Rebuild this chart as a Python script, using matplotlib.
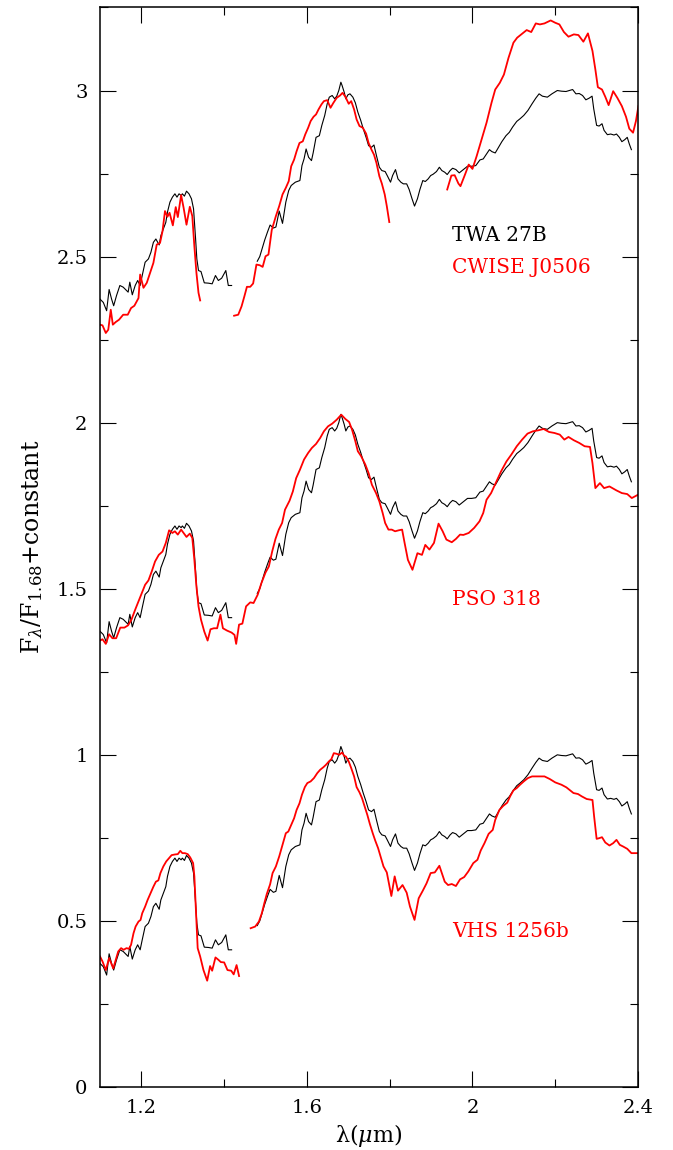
import numpy as np
import matplotlib
matplotlib.use('Agg')
import matplotlib.pyplot as plt
from matplotlib.ticker import MultipleLocator, FormatStrFormatter

plt.rcParams['font.family'] = 'DejaVu Serif'
plt.rcParams['mathtext.fontset'] = 'dejavuserif'

nan = np.nan

# TWA 27B, normalised at 1.68 um (plotted three times with offsets 2, 1, 0)
twa_wave = [1.100, 1.108, 1.116, 1.122, 1.128, 1.133, 1.140, 1.148, 1.156, 1.164,
            1.168, 1.172, 1.178, 1.185, 1.191, 1.197, 1.202, 1.209, 1.217, 1.223,
            1.229, 1.235, 1.243, 1.247, 1.253, 1.259, 1.263, 1.269, 1.275, 1.281,
            1.286, 1.291, 1.296, 1.299, 1.304, 1.309, 1.315, 1.321, 1.326, 1.331,
            1.334, 1.338, 1.344, 1.352, 1.362, 1.371, 1.379, 1.386, 1.394, 1.404,
            1.410, 1.418, nan,
            1.480, 1.486, 1.492, 1.498, 1.505, 1.511, 1.519, 1.525, 1.533, 1.541,
            1.549, 1.556, 1.562, 1.572, 1.583, 1.588, 1.593, 1.598, 1.604, 1.611,
            1.615, 1.622, 1.630, 1.636, 1.643, 1.649, 1.654, 1.661, 1.667, 1.672,
            1.677, 1.682, 1.685, 1.690, 1.694, 1.699, 1.704, 1.711, 1.717, 1.723,
            1.730, 1.736, 1.743, 1.749, 1.756, 1.762, 1.768, 1.775, 1.781, 1.789,
            1.794, 1.802, 1.807, 1.814, 1.820, 1.827, 1.833, 1.841, 1.847, 1.854,
            1.860, 1.867, 1.873, 1.880, 1.886, 1.893, 1.899, 1.905, 1.913, 1.920,
            1.926, 1.933, 1.939, 1.946, 1.952, 1.960, 1.968, 1.978, 1.988, 1.998,
            2.008, 2.018, 2.026, 2.034, 2.041, 2.047, 2.055, 2.063, 2.071, 2.081,
            2.089, 2.097, 2.107, 2.115, 2.124, 2.134, 2.144, 2.153, 2.161, 2.169,
            2.181, 2.192, 2.205, 2.215, 2.226, 2.234, 2.242, 2.250, 2.258, 2.266,
            2.274, 2.282, 2.289, 2.293, 2.300, 2.306, 2.313, 2.318, 2.326, 2.334,
            2.342, 2.348, 2.355, 2.361, 2.368, 2.374, 2.379, 2.384]
twa_flux = [0.372, 0.362, 0.337, 0.401, 0.372, 0.352, 0.383, 0.413, 0.408, 0.398,
            0.393, 0.423, 0.385, 0.413, 0.428, 0.413, 0.443, 0.483, 0.493, 0.513,
            0.543, 0.553, 0.535, 0.563, 0.583, 0.603, 0.634, 0.664, 0.679, 0.689,
            0.679, 0.689, 0.684, 0.689, 0.682, 0.697, 0.689, 0.674, 0.644, 0.553,
            0.493, 0.458, 0.455, 0.421, 0.420, 0.418, 0.443, 0.428, 0.435, 0.458,
            0.413, 0.413, nan,
            0.486, 0.500, 0.525, 0.550, 0.575, 0.595, 0.586, 0.589, 0.637, 0.600,
            0.664, 0.699, 0.714, 0.724, 0.729, 0.774, 0.794, 0.824, 0.799, 0.789,
            0.812, 0.859, 0.864, 0.895, 0.925, 0.960, 0.980, 0.985, 0.975, 0.983,
            1.000, 1.025, 1.015, 0.995, 0.975, 0.987, 0.990, 0.980, 0.963, 0.935,
            0.910, 0.885, 0.859, 0.834, 0.829, 0.836, 0.804, 0.769, 0.759, 0.756,
            0.744, 0.724, 0.744, 0.762, 0.734, 0.724, 0.719, 0.719, 0.702, 0.674,
            0.652, 0.674, 0.702, 0.729, 0.726, 0.734, 0.744, 0.748, 0.756, 0.769,
            0.759, 0.754, 0.747, 0.759, 0.766, 0.762, 0.752, 0.762, 0.772, 0.772,
            0.774, 0.791, 0.794, 0.809, 0.822, 0.816, 0.812, 0.829, 0.846, 0.864,
            0.874, 0.890, 0.907, 0.915, 0.925, 0.940, 0.960, 0.977, 0.990, 0.983,
            0.980, 0.990, 1.000, 0.998, 0.997, 1.000, 1.003, 0.990, 0.991, 0.985,
            0.972, 0.977, 0.983, 0.945, 0.895, 0.893, 0.900, 0.880, 0.867, 0.869,
            0.866, 0.869, 0.859, 0.846, 0.852, 0.859, 0.839, 0.822]

# CWISE J0506 (top)
cwise_wave = [1.100, 1.106, 1.114, 1.120, 1.126, 1.131, 1.138, 1.146, 1.156, 1.167,
              1.175, 1.183, 1.193, 1.197, 1.205, 1.213, 1.221, 1.229, 1.237, 1.245,
              1.251, 1.257, 1.263, 1.268, 1.276, 1.283, 1.288, 1.296, 1.302, 1.309,
              1.317, 1.323, 1.328, 1.333, 1.338, 1.342, nan,
              1.424, 1.434, 1.442, 1.449, 1.455, 1.463, 1.470, 1.478, 1.486, 1.493,
              1.500, 1.507, 1.515, 1.525, 1.533, 1.541, 1.549, 1.556, 1.562, 1.569,
              1.575, 1.582, 1.590, 1.596, 1.603, 1.609, 1.616, 1.622, 1.628, 1.635,
              1.641, 1.649, 1.657, 1.664, 1.672, 1.680, 1.686, 1.693, 1.701, 1.707,
              1.714, 1.720, 1.727, 1.735, 1.743, 1.749, 1.756, 1.762, 1.768, 1.775,
              1.781, 1.788, 1.793, 1.799, nan,
              1.939, 1.949, 1.957, 1.966, 1.971, 1.982, 1.991, 2.000, 2.010, 2.022,
              2.034, 2.046, 2.055, 2.066, 2.076, 2.087, 2.099, 2.108, 2.118, 2.131,
              2.142, 2.153, 2.163, 2.174, 2.189, 2.200, 2.210, 2.221, 2.232, 2.245,
              2.256, 2.268, 2.279, 2.290, 2.297, 2.303, 2.313, 2.321, 2.329, 2.340,
              2.350, 2.361, 2.371, 2.379, 2.388, 2.395, 2.401]
cwise_flux = [0.295, 0.293, 0.270, 0.280, 0.340, 0.295, 0.303, 0.310, 0.325, 0.325,
              0.345, 0.352, 0.375, 0.446, 0.406, 0.421, 0.451, 0.481, 0.536, 0.541,
              0.576, 0.637, 0.620, 0.632, 0.594, 0.649, 0.619, 0.685, 0.647, 0.596,
              0.650, 0.622, 0.531, 0.451, 0.391, 0.368, nan,
              0.322, 0.325, 0.350, 0.381, 0.409, 0.409, 0.419, 0.476, 0.474, 0.469,
              0.501, 0.506, 0.580, 0.622, 0.652, 0.687, 0.707, 0.727, 0.772, 0.792,
              0.817, 0.842, 0.847, 0.868, 0.888, 0.908, 0.921, 0.928, 0.943, 0.958,
              0.968, 0.971, 0.948, 0.963, 0.978, 0.985, 0.993, 0.981, 0.960, 0.968,
              0.943, 0.913, 0.893, 0.888, 0.870, 0.842, 0.822, 0.807, 0.782, 0.742,
              0.720, 0.687, 0.652, 0.604, nan,
              0.702, 0.744, 0.745, 0.720, 0.712, 0.747, 0.777, 0.764, 0.802, 0.852,
              0.903, 0.963, 1.003, 1.023, 1.048, 1.098, 1.144, 1.159, 1.169, 1.182,
              1.176, 1.202, 1.199, 1.202, 1.211, 1.204, 1.199, 1.176, 1.162, 1.169,
              1.167, 1.147, 1.172, 1.119, 1.063, 1.010, 1.003, 0.981, 0.956, 0.998,
              0.978, 0.953, 0.921, 0.885, 0.873, 0.908, 0.953]

# PSO 318 (middle)
pso_wave = [1.100, 1.106, 1.114, 1.122, 1.130, 1.139, 1.149, 1.159, 1.168, 1.176,
            1.185, 1.193, 1.201, 1.209, 1.217, 1.225, 1.233, 1.242, 1.251, 1.259,
            1.267, 1.275, 1.281, 1.288, 1.296, 1.302, 1.309, 1.317, 1.323, 1.328,
            1.333, 1.338, 1.344, 1.352, 1.360, 1.367, 1.375, 1.383, 1.391, 1.397,
            1.407, 1.418, 1.425, 1.429, 1.436, 1.444, 1.453, 1.463, 1.471, 1.481,
            1.490, 1.500, 1.508, 1.516, 1.524, 1.532, 1.540, 1.547, 1.558, 1.566,
            1.574, 1.583, 1.593, 1.603, 1.612, 1.622, 1.632, 1.641, 1.651, 1.661,
            1.672, 1.683, 1.693, 1.702, 1.709, 1.717, 1.723, 1.731, 1.741, 1.749,
            1.757, 1.767, 1.775, 1.783, 1.789, 1.797, 1.805, 1.813, 1.822, 1.830,
            1.836, 1.844, 1.855, 1.867, 1.878, 1.886, 1.896, 1.907, 1.918, 1.928,
            1.937, 1.950, 1.960, 1.970, 1.978, 1.991, 2.004, 2.017, 2.026, 2.034,
            2.045, 2.056, 2.069, 2.082, 2.094, 2.107, 2.120, 2.133, 2.146, 2.159,
            2.172, 2.185, 2.198, 2.211, 2.222, 2.232, 2.245, 2.258, 2.271, 2.284,
            2.290, 2.297, 2.308, 2.318, 2.331, 2.348, 2.361, 2.374, 2.385, 2.400]
pso_flux = [0.344, 0.348, 0.334, 0.363, 0.351, 0.351, 0.383, 0.383, 0.390, 0.407,
            0.437, 0.462, 0.487, 0.512, 0.525, 0.552, 0.582, 0.602, 0.612, 0.638,
            0.676, 0.668, 0.673, 0.663, 0.678, 0.668, 0.656, 0.666, 0.653, 0.587,
            0.507, 0.447, 0.407, 0.371, 0.344, 0.378, 0.381, 0.381, 0.422, 0.381,
            0.374, 0.368, 0.361, 0.334, 0.392, 0.395, 0.447, 0.459, 0.457, 0.482,
            0.517, 0.549, 0.567, 0.612, 0.650, 0.678, 0.698, 0.738, 0.765, 0.793,
            0.833, 0.858, 0.889, 0.909, 0.924, 0.936, 0.954, 0.974, 0.989, 0.997,
            1.009, 1.024, 1.011, 1.002, 0.979, 0.944, 0.914, 0.899, 0.874, 0.848,
            0.813, 0.788, 0.763, 0.728, 0.698, 0.678, 0.678, 0.673, 0.676, 0.678,
            0.638, 0.587, 0.557, 0.607, 0.602, 0.632, 0.618, 0.638, 0.696, 0.673,
            0.648, 0.640, 0.650, 0.663, 0.662, 0.668, 0.683, 0.703, 0.728, 0.768,
            0.788, 0.818, 0.853, 0.883, 0.904, 0.929, 0.949, 0.967, 0.974, 0.977,
            0.981, 0.972, 0.969, 0.964, 0.949, 0.957, 0.947, 0.939, 0.929, 0.927,
            0.878, 0.803, 0.818, 0.803, 0.808, 0.796, 0.788, 0.785, 0.773, 0.783]

# VHS 1256b (bottom)
vhs_wave = [1.100, 1.106, 1.114, 1.122, 1.132, 1.138, 1.144, 1.151, 1.157, 1.164,
            1.170, 1.175, 1.181, 1.186, 1.193, 1.198, 1.202, 1.209, 1.215, 1.222,
            1.229, 1.235, 1.241, 1.246, 1.253, 1.260, 1.267, 1.273, 1.281, 1.288,
            1.294, 1.299, 1.305, 1.312, 1.318, 1.325, 1.328, 1.331, 1.334, 1.336,
            1.342, 1.350, 1.359, 1.366, 1.371, 1.379, 1.386, 1.392, 1.400, 1.408,
            1.417, 1.423, 1.430, 1.436, nan,
            1.464, 1.475, 1.484, 1.491, 1.497, 1.503, 1.511, 1.517, 1.525, 1.533,
            1.541, 1.549, 1.555, 1.562, 1.569, 1.575, 1.582, 1.588, 1.595, 1.601,
            1.609, 1.617, 1.625, 1.632, 1.640, 1.646, 1.653, 1.659, 1.665, 1.672,
            1.678, 1.685, 1.690, 1.694, 1.701, 1.707, 1.714, 1.720, 1.727, 1.733,
            1.739, 1.746, 1.752, 1.759, 1.765, 1.772, 1.778, 1.785, 1.793, 1.798,
            1.804, 1.812, 1.820, 1.831, 1.841, 1.849, 1.860, 1.870, 1.880, 1.889,
            1.899, 1.909, 1.920, 1.926, 1.933, 1.941, 1.950, 1.960, 1.970, 1.980,
            1.990, 2.002, 2.012, 2.020, 2.029, 2.039, 2.049, 2.055, 2.065, 2.074,
            2.084, 2.091, 2.099, 2.107, 2.115, 2.124, 2.134, 2.144, 2.157, 2.174,
            2.187, 2.200, 2.215, 2.227, 2.236, 2.244, 2.255, 2.264, 2.276, 2.290,
            2.294, 2.300, 2.306, 2.313, 2.321, 2.331, 2.340, 2.348, 2.356, 2.364,
            2.374, 2.384, 2.393, 2.403]
vhs_flux = [0.393, 0.378, 0.352, 0.388, 0.357, 0.383, 0.408, 0.418, 0.413, 0.418,
            0.416, 0.428, 0.463, 0.483, 0.498, 0.503, 0.523, 0.543, 0.563, 0.583,
            0.603, 0.618, 0.622, 0.644, 0.664, 0.679, 0.689, 0.698, 0.700, 0.701,
            0.711, 0.704, 0.704, 0.701, 0.691, 0.674, 0.634, 0.553, 0.473, 0.418,
            0.393, 0.352, 0.320, 0.364, 0.350, 0.390, 0.383, 0.376, 0.375, 0.352,
            0.350, 0.339, 0.367, 0.334, nan,
            0.478, 0.483, 0.498, 0.523, 0.553, 0.581, 0.610, 0.644, 0.664, 0.694,
            0.729, 0.764, 0.769, 0.789, 0.809, 0.834, 0.854, 0.880, 0.903, 0.915,
            0.920, 0.930, 0.945, 0.955, 0.963, 0.970, 0.980, 0.987, 1.005, 1.003,
            1.000, 1.007, 0.997, 0.995, 0.980, 0.960, 0.935, 0.903, 0.887, 0.870,
            0.846, 0.819, 0.792, 0.764, 0.742, 0.719, 0.694, 0.664, 0.646, 0.613,
            0.575, 0.634, 0.591, 0.608, 0.585, 0.543, 0.503, 0.568, 0.591, 0.613,
            0.644, 0.646, 0.666, 0.644, 0.618, 0.608, 0.611, 0.605, 0.625, 0.632,
            0.649, 0.674, 0.684, 0.712, 0.734, 0.762, 0.774, 0.804, 0.834, 0.846,
            0.856, 0.875, 0.893, 0.900, 0.910, 0.920, 0.930, 0.935, 0.935, 0.935,
            0.927, 0.917, 0.910, 0.902, 0.893, 0.885, 0.882, 0.875, 0.867, 0.864,
            0.814, 0.747, 0.749, 0.752, 0.736, 0.727, 0.734, 0.744, 0.729, 0.724,
            0.717, 0.704, 0.704, 0.704]

offsets = [2, 1, 0]
red_names = ['CWISE J0506', 'PSO 318', 'VHS 1256b']
red_waves = [cwise_wave, pso_wave, vhs_wave]
red_fluxes = [cwise_flux, pso_flux, vhs_flux]

fig = plt.figure(figsize=(6.73, 11.5), dpi=100)
ax = fig.add_axes([0.1486, 0.0548, 0.7994, 0.9387])

for off, name, w, f in zip(offsets, red_names, red_waves, red_fluxes):
    ax.plot(twa_wave, np.array(twa_flux) + off, color='black', lw=0.8)
    ax.plot(w, np.array(f) + off, color='red', lw=1.3)
    ax.text(1.95, 0.467 + off, name, color='red', fontsize=14.5, va='center', ha='left')
ax.text(1.95, 2.563, 'TWA 27B', color='black', fontsize=14.5, va='center', ha='left')

ax.set_xlim(1.1, 2.4)
ax.set_ylim(0, 3.25)
ax.xaxis.set_major_locator(MultipleLocator(0.4))
ax.xaxis.set_minor_locator(MultipleLocator(0.2))
ax.yaxis.set_major_locator(MultipleLocator(0.5))
ax.yaxis.set_minor_locator(MultipleLocator(0.25))
ax.xaxis.set_major_formatter(FormatStrFormatter('%g'))
ax.yaxis.set_major_formatter(FormatStrFormatter('%g'))
ax.tick_params(which='both', direction='in', top=True, right=True, labelsize=14)
ax.tick_params(which='major', length=11.5, width=0.8, pad=9)
ax.tick_params(which='minor', length=5.8, width=0.8)
for s in ax.spines.values():
    s.set_linewidth(1.1)

ax.set_xlabel(r'λ($\mu$m)', fontsize=16, labelpad=3)
ax.set_ylabel(r'F$_\lambda$/F$_{1.68}$+constant', fontsize=17, labelpad=8)

fig.savefig('out.png', dpi=100)
